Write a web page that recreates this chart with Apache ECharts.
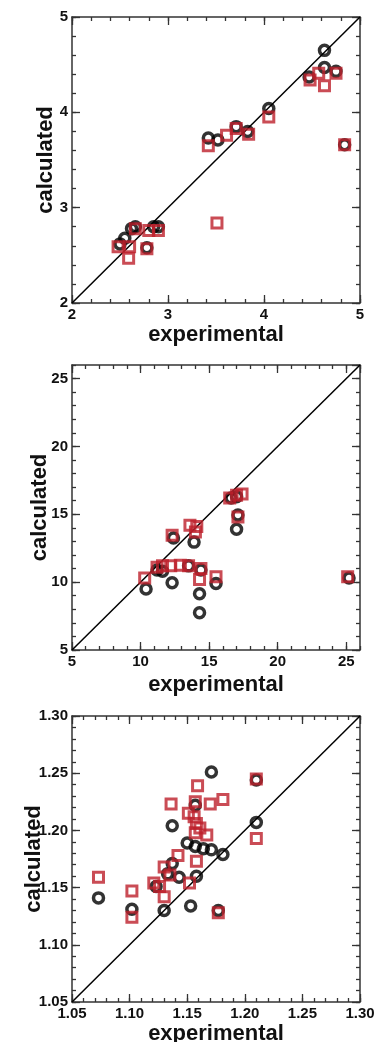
<!DOCTYPE html>
<html><head><meta charset="utf-8">
<script src="https://cdn.jsdelivr.net/npm/echarts@6/dist/echarts.min.js"></script>
<style>html,body{margin:0;padding:0;background:#fff}#c{width:378px;height:1042px}</style>
</head><body><div id="c"></div>
<script>
// Panel 1
const p1Range = [2, 5];
const p1Major = 1;
const p1Circles = [[2.50,2.62],[2.55,2.68],[2.62,2.78],[2.66,2.80],[2.78,2.58],[2.85,2.80],[2.90,2.80],
  [3.42,3.73],[3.52,3.71],[3.71,3.85],[3.83,3.80],[4.05,4.04],[4.47,4.37],[4.63,4.65],[4.63,4.47],[4.75,4.43],[4.84,3.66]];
const p1Squares = [[2.48,2.59],[2.59,2.47],[2.60,2.59],[2.66,2.78],[2.78,2.57],[2.80,2.76],[2.90,2.76],[3.51,2.84],
  [3.42,3.65],[3.61,3.76],[3.71,3.83],[3.84,3.77],[4.05,3.95],[4.48,4.34],[4.57,4.41],[4.63,4.28],[4.75,4.41],[4.84,3.66]];
// Panel 2
const p2Range = [5, 26];
const p2Major = 5;
const p2Circles = [[10.4,9.5],[11.2,10.9],[11.6,10.8],[12.3,9.95],[12.4,13.25],[13.9,12.95],[14.3,9.15],[14.3,7.75],
  [15.5,9.9],[17.0,13.9],[17.1,14.95],[16.6,16.2],[17.0,16.3],[14.4,10.9],[13.5,11.2],[25.2,10.3]];
const p2Squares = [[10.3,10.3],[11.2,11.1],[11.6,11.2],[12.2,11.2],[12.3,13.45],[12.9,11.25],[13.5,11.2],[13.6,14.2],
  [14.1,14.1],[14.0,13.7],[14.4,11.0],[14.3,10.2],[15.5,10.4],[16.5,16.2],[17.0,16.4],[17.4,16.5],[17.1,14.8],[25.1,10.4]];
// Panel 3
const p3Range = [1.05, 1.30];
const p3Major = 0.05;
const p3Circles = [[1.073,1.141],[1.102,1.131],[1.130,1.130],[1.153,1.134],[1.177,1.130],[1.123,1.151],[1.137,1.171],
  [1.143,1.159],[1.158,1.160],[1.133,1.162],[1.137,1.204],[1.150,1.189],[1.157,1.186],[1.164,1.184],[1.171,1.183],
  [1.181,1.179],[1.157,1.222],[1.171,1.251],[1.210,1.207],[1.210,1.244]];
const p3Squares = [[1.073,1.159],[1.102,1.147],[1.102,1.124],[1.130,1.142],[1.121,1.154],[1.126,1.151],[1.130,1.168],
  [1.135,1.161],[1.142,1.178],[1.152,1.154],[1.158,1.173],[1.177,1.128],[1.136,1.223],[1.159,1.239],[1.157,1.225],
  [1.170,1.223],[1.181,1.227],[1.210,1.245],[1.151,1.215],[1.156,1.212],[1.158,1.206],[1.157,1.198],[1.161,1.202],
  [1.167,1.196],[1.210,1.193]];

const xName = 'experimental';
const yName = 'calculated';

const panels = [
  {range:p1Range, major:p1Major, circles:p1Circles, squares:p1Squares, dec:0, showMax:true, xGap:21, yGap:15},
  {range:p2Range, major:p2Major, circles:p2Circles, squares:p2Squares, dec:0, showMax:false, xGap:24, yGap:21},
  {range:p3Range, major:p3Major, circles:p3Circles, squares:p3Squares, dec:2, showMax:true, xGap:21, yGap:27}
];
const grids = [
  {left:72, top:17, width:288, height:286, outerBoundsMode:'none', containLabel:false},
  {left:72, top:365, width:288, height:285, outerBoundsMode:'none', containLabel:false},
  {left:72, top:716, width:288, height:286, outerBoundsMode:'none', containLabel:false}
];
const AX = '#333', RED = '#bd1f2b';
const labelFont = {fontFamily:'Liberation Sans, Arial, sans-serif', fontWeight:'bold', fontSize:15, color:'#111'};
const nameFont = {fontFamily:'Liberation Sans, Arial, sans-serif', fontWeight:'bold', fontSize:22, color:'#111'};

const xAxis = [], yAxis = [], series = [];
panels.forEach((p, i) => {
  const minorIv = p.major / 5;
  const fmt = v => Number(v).toFixed(p.dec);
  function mk(dir, pos, major, primary) {
    const a = {
      type:'value', gridIndex:i, position:pos, min:p.range[0], max:p.range[1],
      interval: major ? p.major : minorIv,
      splitLine:{show:false},
      axisLine:{show: major, onZero:false, lineStyle:{color:AX, width:1.5}},
      axisTick:{show:true, inside:true, length: major ? 8 : 4, lineStyle:{color:AX, width:1.3}},
      axisLabel:{show: primary, margin:4, formatter:fmt, showMaxLabel:p.showMax, showMinLabel:true, ...labelFont},
      silent:true
    };
    if (primary) {
      a.name = dir === 'x' ? xName : yName;
      a.nameLocation = 'middle';
      a.nameMoveOverlap = false;
      a.nameTextStyle = {...nameFont};
      a.nameGap = dir === 'x' ? p.xGap : p.yGap;
    }
    return a;
  }
  xAxis.push(mk('x','bottom',true,true), mk('x','top',true,false), mk('x','bottom',false,false), mk('x','top',false,false));
  yAxis.push(mk('y','left',true,true), mk('y','right',true,false), mk('y','left',false,false), mk('y','right',false,false));
  const xi = 4*i, yi = 4*i;
  series.push({type:'line', xAxisIndex:xi, yAxisIndex:yi, data:[[p.range[0],p.range[0]],[p.range[1],p.range[1]]],
    symbol:'none', silent:true, lineStyle:{color:'#000', width:1.5}, z:1});
  series.push({type:'scatter', xAxisIndex:xi, yAxisIndex:yi, data:p.circles, symbol:'circle', symbolSize:10,
    itemStyle:{color:'rgba(0,0,0,0)', borderColor:'#000', borderWidth:3.5}, z:2});
  series.push({type:'scatter', xAxisIndex:xi, yAxisIndex:yi, data:p.squares, symbol:'rect', symbolSize:10,
    itemStyle:{color:'rgba(0,0,0,0)', borderColor:RED, borderWidth:3}, z:3});
});

const chart = echarts.init(document.getElementById('c'), null, {renderer:'canvas'});
chart.setOption({animation:false, backgroundColor:'#fff', grid:grids, xAxis, yAxis, series});
</script></body></html>
